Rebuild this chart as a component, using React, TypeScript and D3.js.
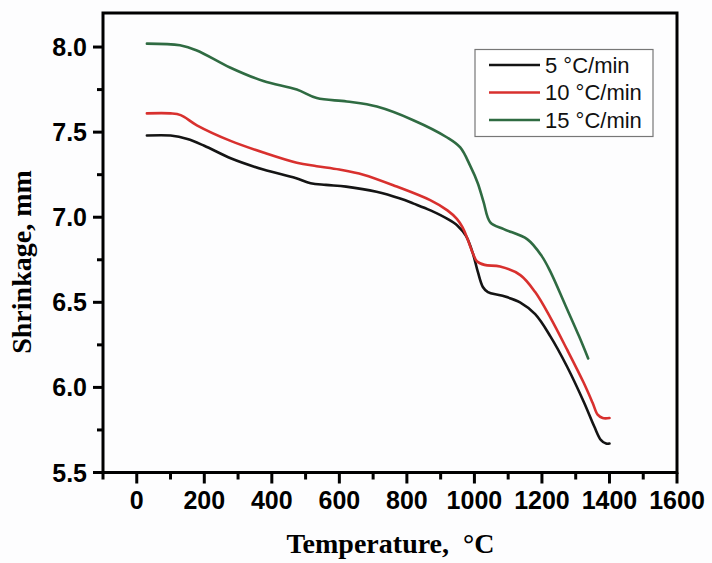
import React from 'react';
import * as d3 from 'd3';

const xTicks = [0, 200, 400, 600, 800, 1000, 1200, 1400, 1600];
const xMinorTicks = [-100, 100, 300, 500, 700, 900, 1100, 1300, 1500];
const yTicks = [5.5, 6.0, 6.5, 7.0, 7.5, 8.0];
const yMinorTicks = [5.75, 6.25, 6.75, 7.25, 7.75];
const seriesNames = ['5 °C/min', '10 °C/min', '15 °C/min'];
const seriesColors = ['#141414', '#d8302e', '#2f6b42'];

const temp5 = [30, 100, 150, 200, 280, 375, 470, 515, 560, 620, 710, 780, 820, 870, 920, 950, 975, 995, 1010, 1025, 1040, 1080, 1135, 1180, 1225, 1275, 1325, 1355, 1375, 1390, 1400];
const shrink5 = [7.48, 7.48, 7.46, 7.42, 7.345, 7.28, 7.23, 7.2, 7.19, 7.18, 7.15, 7.11, 7.08, 7.04, 6.99, 6.95, 6.89, 6.79, 6.68, 6.59, 6.56, 6.54, 6.5, 6.43, 6.3, 6.12, 5.91, 5.77, 5.69, 5.67, 5.67];

const temp10 = [30, 100, 130, 178, 276, 375, 474, 533, 600, 671, 770, 869, 920, 948, 965, 980, 995, 1008, 1030, 1076, 1136, 1180, 1225, 1275, 1323, 1350, 1365, 1380, 1400];
const shrink10 = [7.61, 7.61, 7.6, 7.54, 7.45, 7.38, 7.32, 7.3, 7.28, 7.25, 7.18, 7.1, 7.04, 6.99, 6.94, 6.87, 6.79, 6.74, 6.72, 6.71, 6.66, 6.56, 6.41, 6.22, 6.03, 5.91, 5.84, 5.82, 5.82];

const temp15 = [30, 128, 178, 276, 375, 474, 533, 622, 711, 819, 918, 958, 988, 1010, 1027, 1047, 1087, 1157, 1200, 1225, 1270, 1310, 1337];
const shrink15 = [8.02, 8.01, 7.98, 7.88, 7.8, 7.75, 7.7, 7.68, 7.65, 7.57, 7.47, 7.41, 7.3, 7.2, 7.09, 6.97, 6.93, 6.87, 6.77, 6.68, 6.48, 6.3, 6.17];

const W = 712;
const H = 563;
const left = 103;
const right = 677;
const top = 13;
const bottom = 472.5;

export default function App() {
  const x = d3.scaleLinear().domain([-100, 1600]).range([left, right]);
  const y = d3.scaleLinear().domain([5.5, 8.2]).range([bottom, top]);
  const line = d3
    .line<[number, number]>()
    .x((d) => x(d[0]))
    .y((d) => y(d[1]))
    .curve(d3.curveCatmullRom.alpha(0.5));

  const series = [
    temp5.map((t, i) => [t, shrink5[i]] as [number, number]),
    temp10.map((t, i) => [t, shrink10[i]] as [number, number]),
    temp15.map((t, i) => [t, shrink15[i]] as [number, number]),
  ];

  const tickFont = { fontFamily: '"Liberation Sans", Arial, sans-serif', fontWeight: 700, fontSize: 25 };
  const titleFont = { fontFamily: '"Liberation Serif", "Times New Roman", serif', fontWeight: 700, fontSize: 28 };

  const legX = 475;
  const legY = 49.5;
  const legW = 178;
  const legH = 87;
  const rowGap = 27.5;

  return (
    <svg width={W} height={H} style={{ position: 'absolute', left: 0, top: 0, background: '#fff' }}>
      <rect x={0} y={0} width={W} height={H} fill="#fdfdfe" />
      {series.map((s, i) => (
        <path key={i} d={line(s) || ''} fill="none" stroke={seriesColors[i]} strokeWidth={2.6} strokeLinejoin="round" strokeLinecap="round" />
      ))}
      <rect x={left} y={top} width={right - left} height={bottom - top} fill="none" stroke="#000" strokeWidth={3} />
      {xTicks.map((t) => (
        <g key={'x' + t}>
          <line x1={x(t)} x2={x(t)} y1={bottom} y2={bottom + 11} stroke="#000" strokeWidth={3} />
          <text x={x(t)} y={509} textAnchor="middle" style={tickFont}>{t}</text>
        </g>
      ))}
      {xMinorTicks.map((t) => (
        <line key={'xm' + t} x1={x(t)} x2={x(t)} y1={bottom} y2={bottom + 7} stroke="#000" strokeWidth={3} />
      ))}
      {yTicks.map((t) => (
        <g key={'y' + t}>
          <line x1={left - 10} x2={left} y1={y(t)} y2={y(t)} stroke="#000" strokeWidth={3} />
          <text x={87} y={y(t)} dy="0.36em" textAnchor="end" style={tickFont}>{t.toFixed(1)}</text>
        </g>
      ))}
      {yMinorTicks.map((t) => (
        <line key={'ym' + t} x1={left - 6} x2={left} y1={y(t)} y2={y(t)} stroke="#000" strokeWidth={3} />
      ))}
      <text x={390.5} y={553} textAnchor="middle" style={{ ...titleFont, whiteSpace: 'pre' }}>{'Temperature,  °C'}</text>
      <text transform="translate(31,262) rotate(-90)" textAnchor="middle" style={titleFont}>Shrinkage, mm</text>
      <rect x={legX} y={legY} width={legW} height={legH} fill="#fff" stroke="#777" strokeWidth={1.2} />
      {seriesNames.map((n, i) => (
        <g key={n}>
          <line x1={489} x2={540} y1={legY + 15.5 + i * rowGap} y2={legY + 15.5 + i * rowGap} stroke={seriesColors[i]} strokeWidth={2.6} />
          <text x={545} y={legY + 15.5 + i * rowGap} dy="0.36em" style={{ fontFamily: '"Liberation Sans", Arial, sans-serif', fontSize: 22, fill: '#111' }}>{n}</text>
        </g>
      ))}
    </svg>
  );
}
